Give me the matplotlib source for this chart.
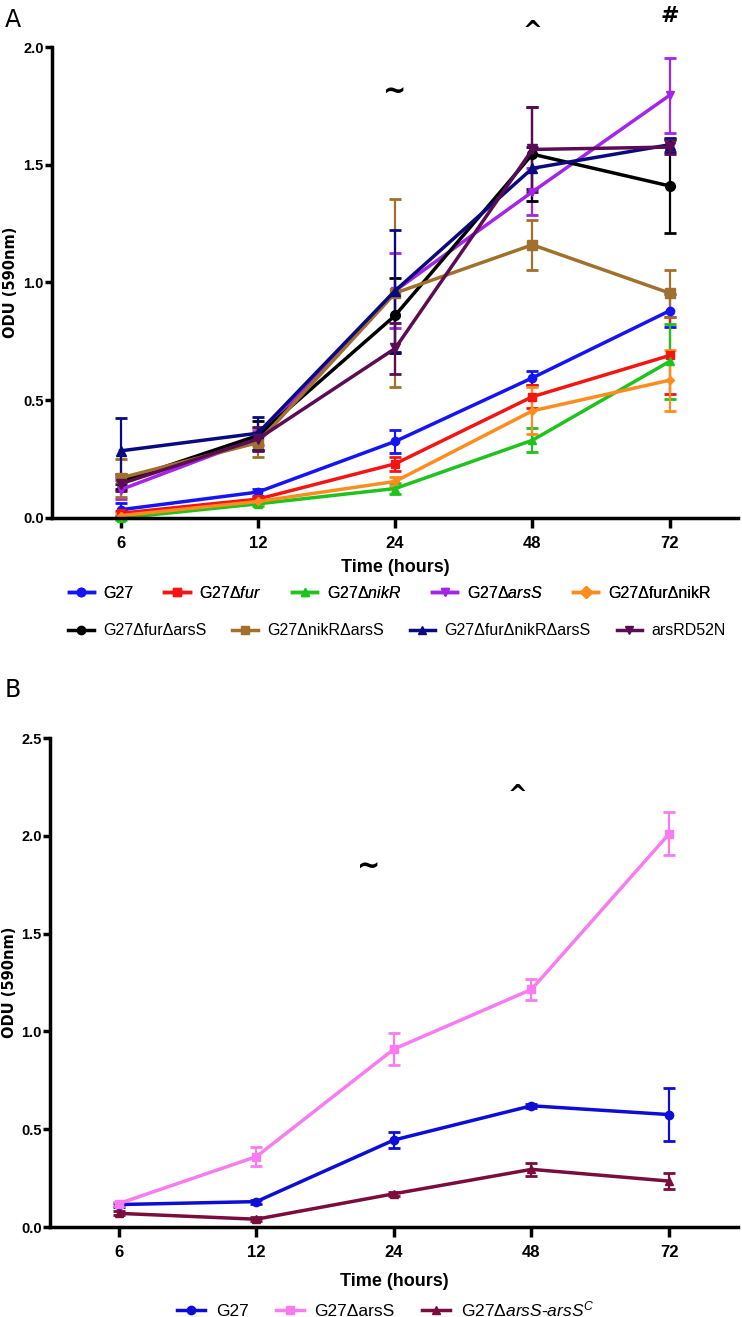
import matplotlib
matplotlib.use("Agg")
import matplotlib.pyplot as plt
from matplotlib.lines import Line2D
import numpy as np

plt.rcParams["font.family"] = ["Liberation Sans Narrow", "Liberation Sans", "DejaVu Sans"]
plt.rcParams["mathtext.fontset"] = "custom"
plt.rcParams["mathtext.rm"] = "Liberation Sans"
plt.rcParams["mathtext.it"] = "Liberation Sans:italic"

times = ["6", "12", "24", "48", "72"]

# panel A: mean and error per strain
labels_a = ["G27", "G27Δ$\\mathit{fur}$", "G27Δ$\\mathit{nikR}$", "G27Δ$\\mathit{arsS}$",
            "G27ΔfurΔnikR", "G27ΔfurΔarsS", "G27ΔnikRΔarsS", "G27ΔfurΔnikRΔarsS", "arsRD52N"]
g27_a = [0.035, 0.11, 0.325, 0.595, 0.88]
g27_a_err = [0.03, 0.015, 0.05, 0.03, 0.07]
fur = [0.02, 0.08, 0.23, 0.515, 0.69]
fur_err = [0.01, 0.01, 0.03, 0.05, 0.165]
nikr = [0.0, 0.06, 0.125, 0.33, 0.665]
nikr_err = [0.01, 0.01, 0.025, 0.05, 0.16]
arss = [0.12, 0.34, 0.965, 1.385, 1.795]
arss_err = [0.04, 0.03, 0.16, 0.1, 0.16]
furnikr = [0.01, 0.07, 0.155, 0.455, 0.585]
furnikr_err = [0.01, 0.01, 0.02, 0.1, 0.13]
furarss = [0.155, 0.35, 0.86, 1.545, 1.41]
furarss_err = [0.03, 0.06, 0.16, 0.2, 0.2]
nikrarss = [0.17, 0.32, 0.955, 1.16, 0.955]
nikrarss_err = [0.08, 0.06, 0.4, 0.105, 0.1]
triple = [0.285, 0.36, 0.965, 1.485, 1.585]
triple_err = [0.14, 0.07, 0.26, 0.09, 0.03]
d52n = [0.145, 0.335, 0.72, 1.565, 1.575]
d52n_err = [0.03, 0.05, 0.11, 0.18, 0.03]

series_a = [g27_a, fur, nikr, arss, furnikr, furarss, nikrarss, triple, d52n]
errors_a = [g27_a_err, fur_err, nikr_err, arss_err, furnikr_err,
            furarss_err, nikrarss_err, triple_err, d52n_err]
colors_a = ["#1414F5", "#F51414", "#1EC31E", "#A424E8", "#FF8C1E",
            "#000000", "#A0702C", "#0A0A80", "#5C0C52"]
markers_a = ["o", "s", "^", "v", "D", "o", "s", "^", "v"]
msizes_a = [6, 6, 6, 6, 4, 7, 7, 7, 7]

# panel B
labels_b = ["G27", "G27ΔarsS", "G27$\\mathit{ΔarsS}$-$\\mathit{arsS}^{C}$"]
g27_b = [0.115, 0.13, 0.445, 0.62, 0.575]
g27_b_err = [0.01, 0.01, 0.04, 0.01, 0.135]
arss_b = [0.12, 0.36, 0.91, 1.215, 2.01]
arss_b_err = [0.01, 0.05, 0.08, 0.055, 0.11]
comp_b = [0.07, 0.04, 0.17, 0.295, 0.235]
comp_b_err = [0.01, 0.01, 0.01, 0.035, 0.04]
series_b = [g27_b, arss_b, comp_b]
errors_b = [g27_b_err, arss_b_err, comp_b_err]
colors_b = ["#0D0DD8", "#F87CF0", "#7A0C3E"]
markers_b = ["o", "s", "^"]


def style_axis(ax, ymax, step):
    x = np.arange(len(times))
    ax.set_xlim(-0.5, 4.5)
    ax.set_ylim(0, ymax)
    ax.set_xticks(x)
    ax.set_xticklabels(times)
    ax.set_yticks(np.arange(0, ymax + 0.01, step))
    ax.set_yticklabels([f"{v:.1f}" for v in np.arange(0, ymax + 0.01, step)])
    for s in ["top", "right"]:
        ax.spines[s].set_visible(False)
    for s in ["left", "bottom"]:
        ax.spines[s].set_linewidth(2.5)
    ax.tick_params(axis="x", length=7, width=2.5, labelsize=12, pad=6)
    ax.tick_params(axis="y", length=5, width=2.5, labelsize=10.5, pad=1)
    for t in ax.get_xticklabels() + ax.get_yticklabels():
        t.set_fontweight("bold")
    ax.set_xlabel("Time (hours)", fontsize=13, fontweight="bold", labelpad=6)
    ax.set_ylabel("ODU (590nm)", fontsize=10.5, fontweight="bold",
                  family=["DejaVu Sans"])


def legend_handles(colors, markers):
    return [Line2D([], [], color=c, marker=m, markersize=6, linewidth=2.5)
            for c, m in zip(colors, markers)]


fig = plt.figure(figsize=(7.42, 13.17), dpi=100)

# ---- panel A
axa = fig.add_axes([0.070, 0.6067, 0.925, 0.3576])
x = np.arange(len(times))
for vals, err, c, m, ms in zip(series_a, errors_a, colors_a, markers_a, msizes_a):
    axa.errorbar(x, vals, yerr=err, color=c, marker=m, markersize=ms,
                 linewidth=2.5, elinewidth=1.6, capsize=4.5, capthick=2,
                 clip_on=False)
style_axis(axa, 2.0, 0.5)
axa.yaxis.set_label_coords(-0.05, 0.5)
for xi, yi, s, fs in [(2, 1.81, "~", 20), (3, 2.07, "^", 17), (4, 2.13, "#", 16)]:
    axa.text(xi, yi, s, ha="center", va="center", fontsize=fs, fontweight="bold",
             family=["DejaVu Sans"], clip_on=False)
fig.text(0.006, 0.985, "A", fontsize=17, family=["DejaVu Sans"], va="center")

ha = legend_handles(colors_a, markers_a)
leg1 = fig.legend(ha[:5], labels_a[:5], loc="center", ncol=5,
                  bbox_to_anchor=(0.525, 0.550), frameon=False, fontsize=11.5,
                  handlelength=1.6, handletextpad=0.6, columnspacing=1.9)
fig.legend(ha[5:], labels_a[5:], loc="center", ncol=4,
           bbox_to_anchor=(0.535, 0.521), frameon=False, fontsize=11.5,
           handlelength=1.6, handletextpad=0.6, columnspacing=1.6)
fig.add_artist(leg1)

# ---- panel B
axb = fig.add_axes([0.0674, 0.0683, 0.927, 0.3713])
for vals, err, c, m in zip(series_b, errors_b, colors_b, markers_b):
    axb.errorbar(x, vals, yerr=err, color=c, marker=m, markersize=6,
                 linewidth=2.5, elinewidth=1.6, capsize=4.5, capthick=2,
                 clip_on=False)
style_axis(axb, 2.5, 0.5)
axb.xaxis.labelpad = 9
axb.yaxis.set_label_coords(-0.048, 0.5)
for xi, yi, s, fs in [(1.82, 1.84, "~", 20), (2.9, 2.21, "^", 17)]:
    axb.text(xi, yi, s, ha="center", va="center", fontsize=fs, fontweight="bold",
             family=["DejaVu Sans"])
fig.text(0.006, 0.476, "B", fontsize=17, family=["DejaVu Sans"], va="center")

fig.legend(legend_handles(colors_b, markers_b), labels_b, loc="center", ncol=3,
           bbox_to_anchor=(0.52, 0.006), frameon=False, fontsize=12.5,
           handlelength=1.6, handletextpad=0.6, columnspacing=1.6)

fig.savefig("out.png", dpi=100)
